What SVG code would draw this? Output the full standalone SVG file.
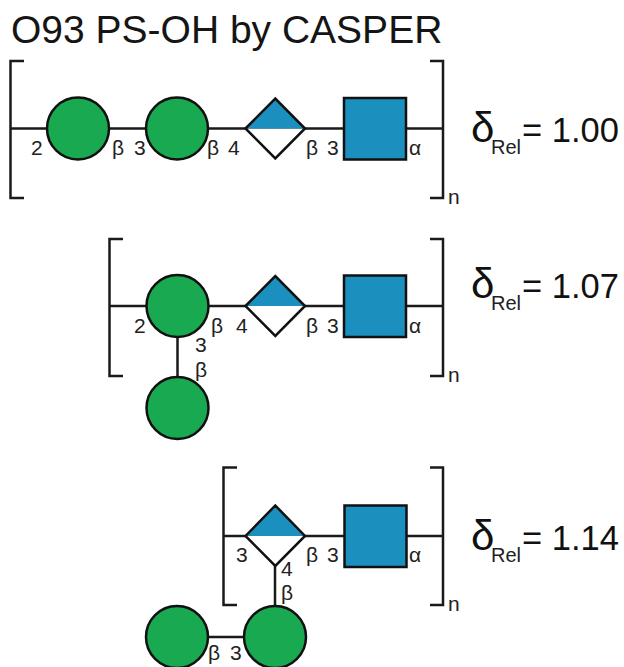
<svg xmlns="http://www.w3.org/2000/svg" width="624" height="667" viewBox="0 0 624 667">
<style>
.l{fill:none;stroke:#1a1a1a;stroke-width:2.5}
.s{stroke:#111;stroke-width:2.5}
.g{fill:#19a951}
.b{fill:#1b8fbd}
.w{fill:#fff}
.n{fill:none;stroke:#111;stroke-width:2.5;stroke-linejoin:miter}
text{font-family:"Liberation Sans",Arial,sans-serif;fill:#222}
.t{font-size:21px}
.r{font-size:20px}
.u{font-size:34.500px;fill:#111}
.e{font-size:42px;fill:#111}
.h{font-size:39px;fill:#151515}
</style>
<rect width="624" height="667" fill="#fff"/>
<text class="h" x="11" y="43">O93 PS-OH by CASPER</text>
<g id="connectors">
<path class="l" d="M11 128.500H344M406 128.500H443"/>
<path class="l" d="M110 306H344M406 306H443M177.500 306V408"/>
<path class="l" d="M224 536H344M406 536H443M275 536V637M177 637H275"/>
</g>
<g id="bracket-1a"><path class="l" d="M24 61H10.500V198H24"/></g>
<g id="bracket-1b"><path class="l" d="M430 61H443V198H430"/></g>
<g id="bracket-2a"><path class="l" d="M123 239H109.500V376H123"/></g>
<g id="bracket-2b"><path class="l" d="M430 239H443V376H430"/></g>
<g id="bracket-3a"><path class="l" d="M237 467.500H223.500V605H237"/></g>
<g id="bracket-3b"><path class="l" d="M430 467.500H443V605H430"/></g>
<g id="r1-gal1"><circle class="g s" cx="78" cy="128.500" r="31"/></g>
<g id="r1-gal2"><circle class="g s" cx="177" cy="128.500" r="31"/></g>
<g id="r1-dia">
<path class="w" d="M245.500 128.500H305L275.300 158.500Z"/><path class="b" d="M245.500 128.500L275.300 98.500L305 128.500Z"/><path class="n" d="M245.500 128.500L275.300 98.500L305 128.500L275.300 158.500Z"/>
</g>
<g id="r1-sq"><rect class="b s" x="344" y="98" width="62" height="61.500"/></g>
<g id="r2-gal1"><circle class="g s" cx="177.500" cy="306" r="31"/></g>
<g id="r2-gal2"><circle class="g s" cx="177.500" cy="408" r="31"/></g>
<g id="r2-dia">
<path class="w" d="M245.500 306H305L275.300 336Z"/><path class="b" d="M245.500 306L275.300 276L305 306Z"/><path class="n" d="M245.500 306L275.300 276L305 306L275.300 336Z"/>
</g>
<g id="r2-sq"><rect class="b s" x="344" y="275.500" width="62" height="61.500"/></g>
<g id="r3-dia">
<path class="w" d="M245.500 536H305L275.300 566Z"/><path class="b" d="M245.500 536L275.300 505.500L305 536Z"/><path class="n" d="M245.500 536L275.300 505.500L305 536L275.300 566Z"/>
</g>
<g id="r3-sq"><rect class="b s" x="344.500" y="505.500" width="62" height="61.500"/></g>
<g id="r3-gal1"><circle class="g s" cx="275" cy="637" r="31"/></g>
<g id="r3-gal2"><circle class="g s" cx="177" cy="637" r="31"/></g>
<g id="labels-1">
<text class="t" x="31" y="155">2</text><text class="t" x="112" y="155">β</text><text class="t" x="134" y="155">3</text><text class="t" x="207" y="155">β</text><text class="t" x="228" y="155">4</text><text class="t" x="306" y="155">β</text><text class="t" x="327" y="155">3</text><text class="t" x="409" y="155">α</text>
<text class="t" x="448" y="204">n</text>
</g>
<g id="labels-2">
<text class="t" x="134" y="333">2</text><text class="t" x="211" y="333">β</text><text class="t" x="236" y="333">4</text><text class="t" x="306" y="333">β</text><text class="t" x="327" y="333">3</text><text class="t" x="409" y="333">α</text>
<text class="t" x="195" y="352">3</text><text class="t" x="195" y="377">β</text>
<text class="t" x="448" y="382">n</text>
</g>
<g id="labels-3">
<text class="t" x="236" y="562">3</text><text class="t" x="306" y="562">β</text><text class="t" x="327" y="562">3</text><text class="t" x="409" y="562">α</text>
<text class="t" x="281" y="576">4</text><text class="t" x="281" y="600">β</text>
<text class="t" x="448" y="611">n</text>
<text class="t" x="208" y="660">β</text><text class="t" x="230" y="660">3</text>
</g>
<g id="delta-1"><text class="e" x="471" y="142">δ</text><text class="r" x="491" y="154">Rel</text><text class="u" x="522" y="142">= 1.00</text></g>
<g id="delta-2"><text class="e" x="471" y="298">δ</text><text class="r" x="491" y="310">Rel</text><text class="u" x="522" y="298">= 1.07</text></g>
<g id="delta-3"><text class="e" x="471" y="550">δ</text><text class="r" x="491" y="562">Rel</text><text class="u" x="522" y="550">= 1.14</text></g>
</svg>
